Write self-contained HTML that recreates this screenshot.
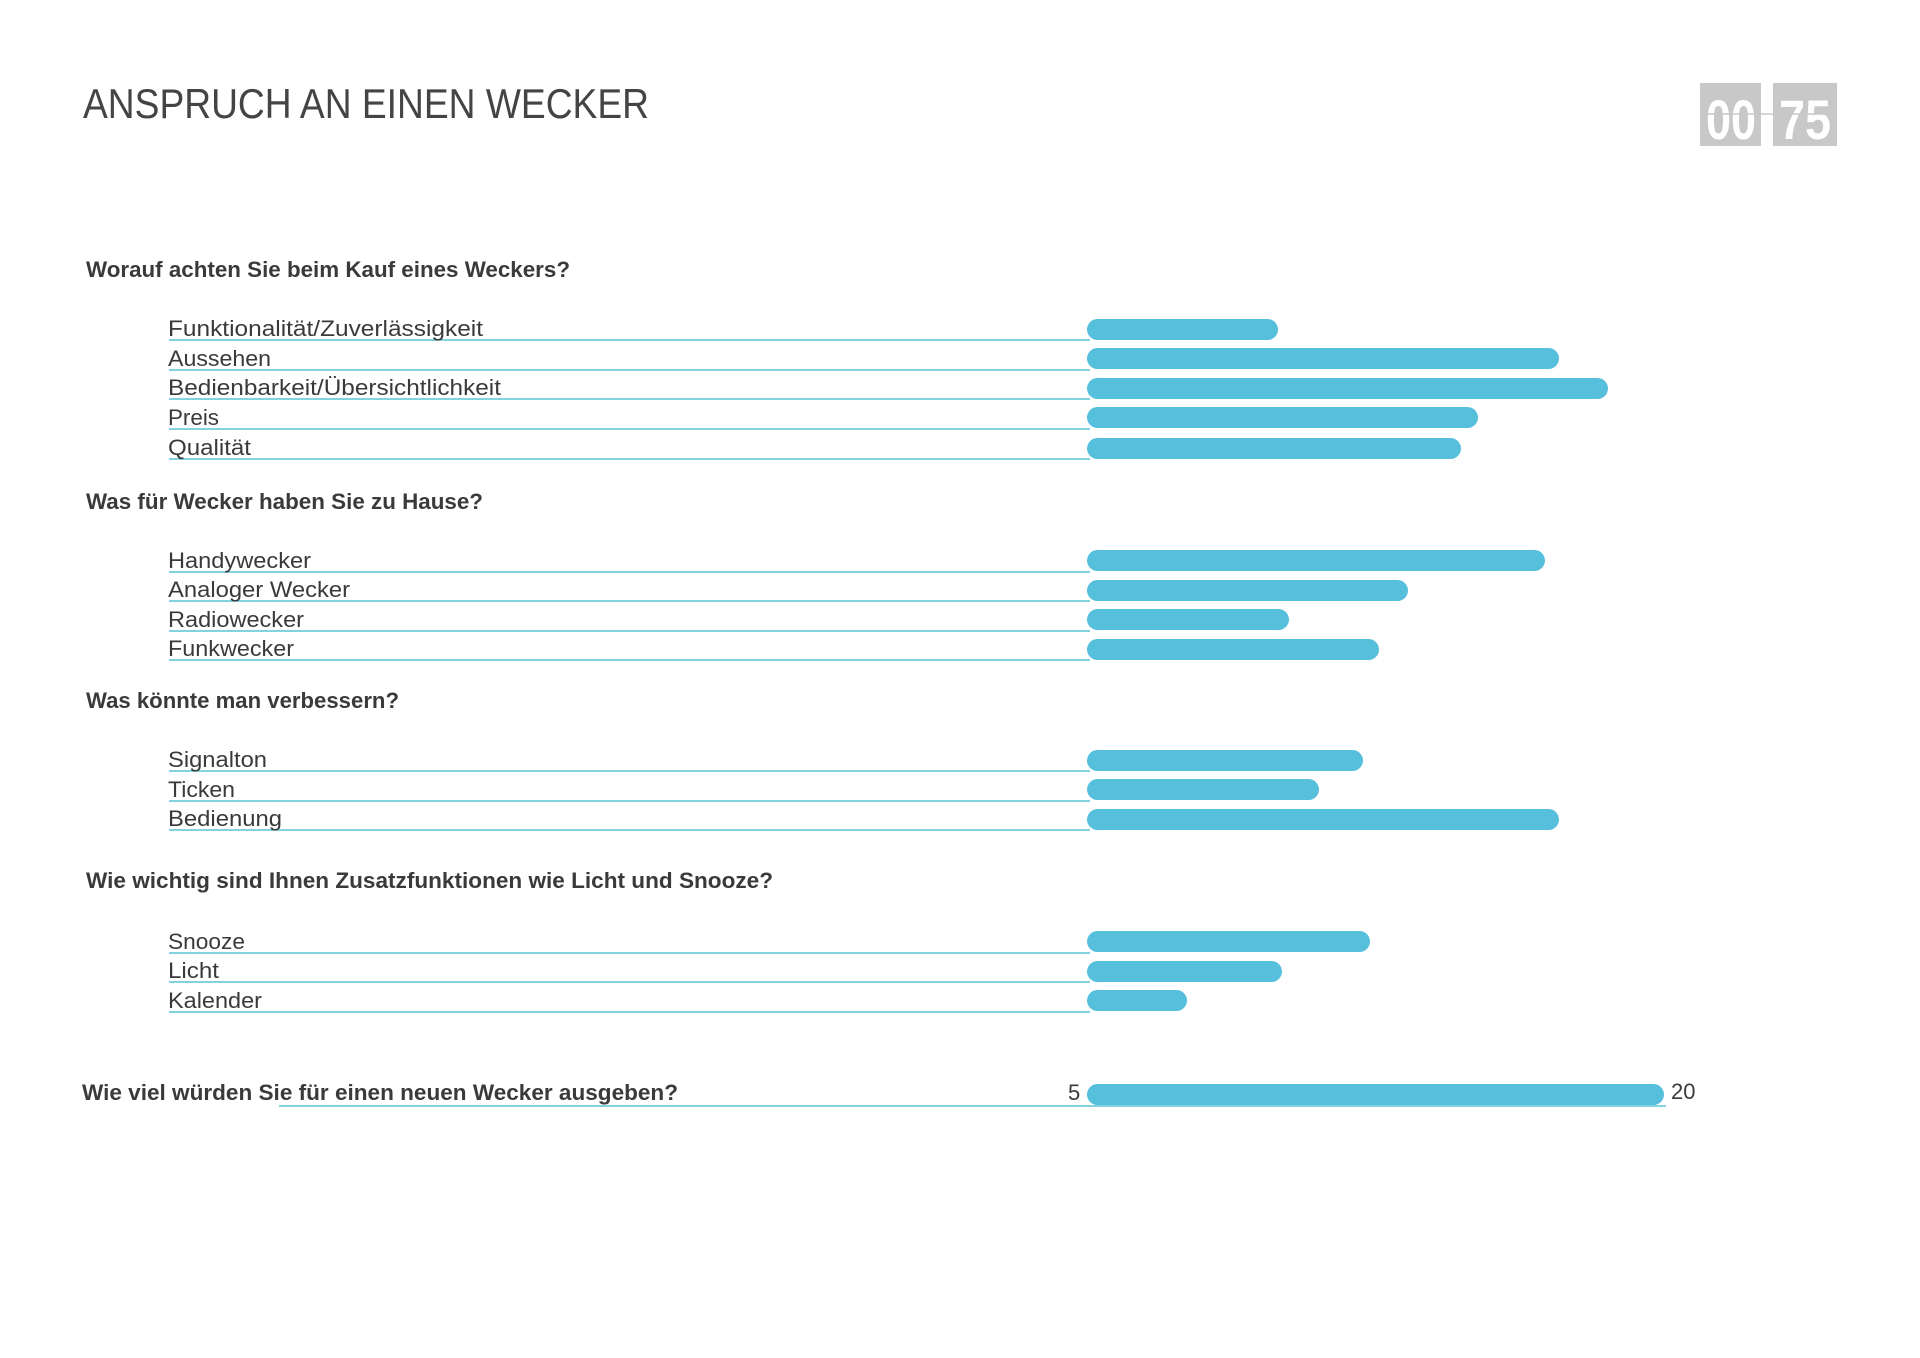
<!DOCTYPE html>
<html><head><meta charset="utf-8"><style>
html,body{margin:0;padding:0;background:#fff;}
svg{display:block;}
.t{font-family:"Liberation Sans",sans-serif;}
.h{font-size:22px;fill:#3a3a3a;font-weight:bold;}
.l{font-size:22px;fill:#3a3a3a;}
</style></head><body>
<svg width="1920" height="1358" viewBox="0 0 1920 1358" xmlns="http://www.w3.org/2000/svg" class="t">
<rect width="1920" height="1358" fill="#fff"/>
<text x="83" y="118" font-size="42" fill="#444" textLength="566" lengthAdjust="spacingAndGlyphs">ANSPRUCH AN EINEN WECKER</text>
<!-- logo -->
<rect x="1700" y="83" width="61" height="63" fill="#c8c8c8"/>
<rect x="1773" y="83" width="64" height="63" fill="#c8c8c8"/>
<text x="1706" y="139" font-size="56" font-weight="bold" fill="#fff" textLength="50" lengthAdjust="spacingAndGlyphs">00</text>
<text x="1779" y="139" font-size="56" font-weight="bold" fill="#fff" textLength="52" lengthAdjust="spacingAndGlyphs">75</text>
<line x1="1700" y1="114" x2="1837" y2="114" stroke="#c8c8c8" stroke-width="1.5"/>

<g class="h">
<text x="86" y="277" textLength="484" lengthAdjust="spacingAndGlyphs">Worauf achten Sie beim Kauf eines Weckers?</text>
<text x="86" y="509" textLength="397" lengthAdjust="spacingAndGlyphs">Was für Wecker haben Sie zu Hause?</text>
<text x="86" y="708" textLength="313" lengthAdjust="spacingAndGlyphs">Was könnte man verbessern?</text>
<text x="86" y="888" textLength="687" lengthAdjust="spacingAndGlyphs">Wie wichtig sind Ihnen Zusatzfunktionen wie Licht und Snooze?</text>
<text x="82" y="1100" textLength="596" lengthAdjust="spacingAndGlyphs">Wie viel würden Sie für einen neuen Wecker ausgeben?</text>
</g>

<g stroke="#5bc2d6" stroke-width="1.5">
<line x1="169" y1="340" x2="1090" y2="340"/>
<line x1="169" y1="370" x2="1090" y2="370"/>
<line x1="169" y1="399" x2="1090" y2="399"/>
<line x1="169" y1="429" x2="1090" y2="429"/>
<line x1="169" y1="459" x2="1090" y2="459"/>
<line x1="169" y1="572" x2="1090" y2="572"/>
<line x1="169" y1="601" x2="1090" y2="601"/>
<line x1="169" y1="631" x2="1090" y2="631"/>
<line x1="169" y1="660" x2="1090" y2="660"/>
<line x1="169" y1="771" x2="1090" y2="771"/>
<line x1="169" y1="801" x2="1090" y2="801"/>
<line x1="169" y1="830" x2="1090" y2="830"/>
<line x1="169" y1="953" x2="1090" y2="953"/>
<line x1="169" y1="982" x2="1090" y2="982"/>
<line x1="169" y1="1012" x2="1090" y2="1012"/>
<line x1="279" y1="1106" x2="1666" y2="1106"/>
</g>

<g class="l">
<text x="168" y="336" textLength="315" lengthAdjust="spacingAndGlyphs">Funktionalität/Zuverlässigkeit</text>
<text x="168" y="366" textLength="103" lengthAdjust="spacingAndGlyphs">Aussehen</text>
<text x="168" y="395" textLength="333" lengthAdjust="spacingAndGlyphs">Bedienbarkeit/Übersichtlichkeit</text>
<text x="168" y="425" textLength="51" lengthAdjust="spacingAndGlyphs">Preis</text>
<text x="168" y="455" textLength="83" lengthAdjust="spacingAndGlyphs">Qualität</text>
<text x="168" y="568" textLength="143" lengthAdjust="spacingAndGlyphs">Handywecker</text>
<text x="168" y="597" textLength="182" lengthAdjust="spacingAndGlyphs">Analoger Wecker</text>
<text x="168" y="627" textLength="136" lengthAdjust="spacingAndGlyphs">Radiowecker</text>
<text x="168" y="656" textLength="126" lengthAdjust="spacingAndGlyphs">Funkwecker</text>
<text x="168" y="767" textLength="99" lengthAdjust="spacingAndGlyphs">Signalton</text>
<text x="168" y="797" textLength="67" lengthAdjust="spacingAndGlyphs">Ticken</text>
<text x="168" y="826" textLength="114" lengthAdjust="spacingAndGlyphs">Bedienung</text>
<text x="168" y="949" textLength="77" lengthAdjust="spacingAndGlyphs">Snooze</text>
<text x="168" y="978" textLength="51" lengthAdjust="spacingAndGlyphs">Licht</text>
<text x="168" y="1008" textLength="94" lengthAdjust="spacingAndGlyphs">Kalender</text>
<text x="1068" y="1100">5</text>
<text x="1671" y="1099">20</text>
</g>

<g fill="#55bfdc">
<rect x="1087" y="319" width="191" height="21" rx="10.5"/>
<rect x="1087" y="348" width="472" height="21" rx="10.5"/>
<rect x="1087" y="378" width="521" height="21" rx="10.5"/>
<rect x="1087" y="407" width="391" height="21" rx="10.5"/>
<rect x="1087" y="438" width="374" height="21" rx="10.5"/>
<rect x="1087" y="550" width="458" height="21" rx="10.5"/>
<rect x="1087" y="580" width="321" height="21" rx="10.5"/>
<rect x="1087" y="609" width="202" height="21" rx="10.5"/>
<rect x="1087" y="639" width="292" height="21" rx="10.5"/>
<rect x="1087" y="750" width="276" height="21" rx="10.5"/>
<rect x="1087" y="779" width="232" height="21" rx="10.5"/>
<rect x="1087" y="809" width="472" height="21" rx="10.5"/>
<rect x="1087" y="931" width="283" height="21" rx="10.5"/>
<rect x="1087" y="961" width="195" height="21" rx="10.5"/>
<rect x="1087" y="990" width="100" height="21" rx="10.5"/>
<rect x="1087" y="1084" width="577" height="21" rx="10.5"/>
</g>
</svg>
</body></html>
